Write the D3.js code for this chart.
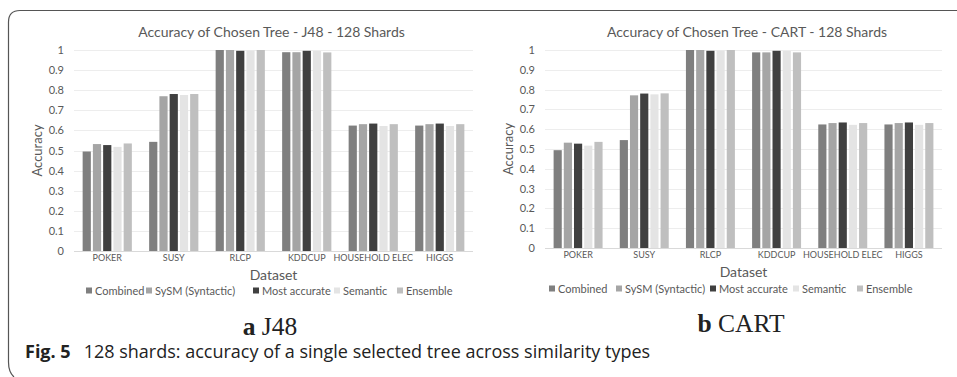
<!DOCTYPE html>
<html lang="en">
<head>
<meta charset="utf-8" />
<title>128 shards: accuracy of a single selected tree</title>
<style>
html, body {
	margin: 0;
	padding: 0;
	background: #fff;
}
svg {
	display: block;
}
.chart text {
	font-family: Lato, "Open Sans", sans-serif;
}
</style>
</head>
<body>
<svg width="957" height="377"></svg>

<script src="https://cdn.jsdelivr.net/npm/d3@7/dist/d3.min.js"></script>
<script>

// datasets on the x axis
var categories = ["POKER", "SUSY", "RLCP", "KDDCUP", "HOUSEHOLD ELEC", "HIGGS"];

// similarity types (legend order)
var seriesNames = ["Combined", "SySM (Syntactic)", "Most accurate", "Semantic", "Ensemble"];
var seriesColors = ["#7f7f7f", "#a5a5a5", "#404040", "#e4e4e4", "#bfbfbf"];

// J48 accuracy per similarity type
var j48Combined  = [0.495, 0.543, 1.000, 0.989, 0.624, 0.624];
var j48Syntactic = [0.532, 0.770, 1.000, 0.989, 0.631, 0.631];
var j48MostAcc   = [0.527, 0.781, 0.996, 0.996, 0.634, 0.634];
var j48Semantic  = [0.518, 0.776, 0.997, 0.995, 0.622, 0.622];
var j48Ensemble  = [0.535, 0.781, 1.000, 0.988, 0.631, 0.631];

// CART accuracy per similarity type
var cartCombined  = [0.494, 0.545, 1.000, 0.988, 0.624, 0.624];
var cartSyntactic = [0.532, 0.771, 1.000, 0.988, 0.631, 0.631];
var cartMostAcc   = [0.527, 0.780, 0.996, 0.996, 0.634, 0.634];
var cartSemantic  = [0.517, 0.776, 0.997, 0.995, 0.622, 0.622];
var cartEnsemble  = [0.536, 0.781, 1.000, 0.988, 0.631, 0.631];

var yTicks = [0, 0.1, 0.2, 0.3, 0.4, 0.5, 0.6, 0.7, 0.8, 0.9, 1];

var svg = d3.select("svg");

// frame around the figure
svg.append("path")
	.attr("d", "M957,10.5 H20 Q8.5,10.5 8.5,22 V362 Q8.5,372 14,377")
	.attr("fill", "none")
	.attr("stroke", "#555")
	.attr("stroke-width", 1.2);

//チャートを描く
function drawChart(opt) {
	var g = svg.append("g").attr("class", "chart");

	var x = d3.scaleBand().domain(categories).range([opt.left, opt.right]).paddingInner(0.26).paddingOuter(0.13);
	var xs = d3.scaleBand().domain(seriesNames).range([0, x.bandwidth()]).paddingInner(0.2);
	var y = d3.scaleLinear().domain([0, 1]).range([opt.bottom, opt.top]);

	// gridlines
	g.append("g").selectAll("line").data(yTicks).join("line")
		.attr("x1", opt.left).attr("x2", opt.right)
		.attr("y1", function(d){ return Math.round(y(d)) + 0.5; })
		.attr("y2", function(d){ return Math.round(y(d)) + 0.5; })
		.attr("stroke", function(d){ return d === 0 ? "#d9d9d9" : "#ededed"; })
		.attr("stroke-width", 1);

	// y axis labels
	var yAxis = d3.axisLeft(y).tickValues(yTicks).tickSize(0).tickPadding(0)
		.tickFormat(function(d){ return d === 0 ? "0" : d === 1 ? "1" : d3.format(".1f")(d); });
	var ya = g.append("g").attr("transform", "translate(" + (opt.left - 10) + ",0)").call(yAxis);
	ya.select(".domain").remove();
	ya.selectAll("text").attr("fill", "#595959").style("font-size", "11px").style("font-family", "Lato, sans-serif");

	// bars
	var groups = g.append("g").selectAll("g").data(categories).join("g")
		.attr("transform", function(d){ return "translate(" + x(d) + ",0)"; });

	groups.selectAll("rect")
		.data(function(c, i){
			return seriesNames.map(function(s, k){ return { s: s, v: opt.values[k][i], c: seriesColors[k] }; });
		})
		.join("rect")
		.attr("x", function(d){ return xs(d.s); })
		.attr("width", xs.bandwidth())
		.attr("y", function(d){ return y(d.v); })
		.attr("height", function(d){ return y(0) - y(d.v); })
		.attr("fill", function(d){ return d.c; });

	// x axis labels
	var xAxis = d3.axisBottom(x).tickSize(0).tickPadding(0);
	var xa = g.append("g").attr("transform", "translate(0," + (opt.bottom + 4) + ")").call(xAxis);
	xa.select(".domain").remove();
	xa.selectAll("text").attr("fill", "#595959").style("font-size", "9px").style("font-family", "Lato, sans-serif");

	// titles
	g.append("text")
		.attr("x", opt.titleX).attr("y", opt.top - 13)
		.attr("text-anchor", "middle")
		.attr("fill", "#595959")
		.style("font-size", "14px")
		.text(opt.title);

	g.append("text")
		.attr("x", (opt.left + opt.right) / 2).attr("y", opt.bottom + 29)
		.attr("text-anchor", "middle")
		.attr("fill", "#595959")
		.style("font-size", "14px")
		.text("Dataset");

	g.append("text")
		.attr("transform", "translate(" + (opt.left - 32) + "," + ((opt.top + opt.bottom) / 2) + ") rotate(-90)")
		.attr("text-anchor", "middle")
		.attr("fill", "#595959")
		.style("font-size", "13px")
		.text("Accuracy");

	// legend
	var leg = g.append("g").attr("transform", "translate(0," + opt.legendY + ")");
	var items = leg.selectAll("g").data(seriesNames).join("g")
		.attr("transform", function(d, i){ return "translate(" + opt.legendX[i] + ",0)"; });
	items.append("rect").attr("x", 0).attr("y", -3.5).attr("width", 6).attr("height", 6)
		.attr("fill", function(d, i){ return seriesColors[i]; });
	items.append("text").attr("x", 9).attr("y", 4)
		.attr("fill", "#595959")
		.style("font-size", "11px")
		.text(function(d){ return d; });

	// sub caption
	var sub = svg.append("text")
		.attr("x", opt.subX).attr("y", opt.subY)
		.attr("text-anchor", "middle")
		.style("font-family", "'Liberation Serif', 'DejaVu Serif', serif")
		.style("font-size", "25.5px")
		.attr("fill", "#222");
	sub.append("tspan").attr("font-weight", "bold").text(opt.subLetter + " ");
	sub.append("tspan").text(opt.subName);
}

drawChart({
	title: "Accuracy of Chosen Tree - J48 - 128 Shards",
	titleX: 271.5,
	left: 74, right: 473, top: 50, bottom: 251,
	values: [j48Combined, j48Syntactic, j48MostAcc, j48Semantic, j48Ensemble],
	legendY: 291,
	legendX: [86, 146, 253, 334, 397],
	subX: 270, subY: 335, subLetter: "a", subName: "J48"
});

drawChart({
	title: "Accuracy of Chosen Tree - CART - 128 Shards",
	titleX: 747,
	left: 545, right: 942, top: 50, bottom: 248,
	values: [cartCombined, cartSyntactic, cartMostAcc, cartSemantic, cartEnsemble],
	legendY: 289,
	legendX: [549, 616, 710, 793, 857],
	subX: 741, subY: 332, subLetter: "b", subName: "CART"
});

// figure caption
var cap = svg.append("text")
	.attr("x", 25).attr("y", 358)
	.style("font-family", "'Open Sans', 'Noto Sans', sans-serif")
	.style("font-size", "18px")
	.attr("fill", "#222");
cap.append("tspan").attr("font-weight", "bold").text("Fig. 5");
cap.append("tspan").attr("dx", 13).text("128 shards: accuracy of a single selected tree across similarity types");

</script>
</body>
</html>
